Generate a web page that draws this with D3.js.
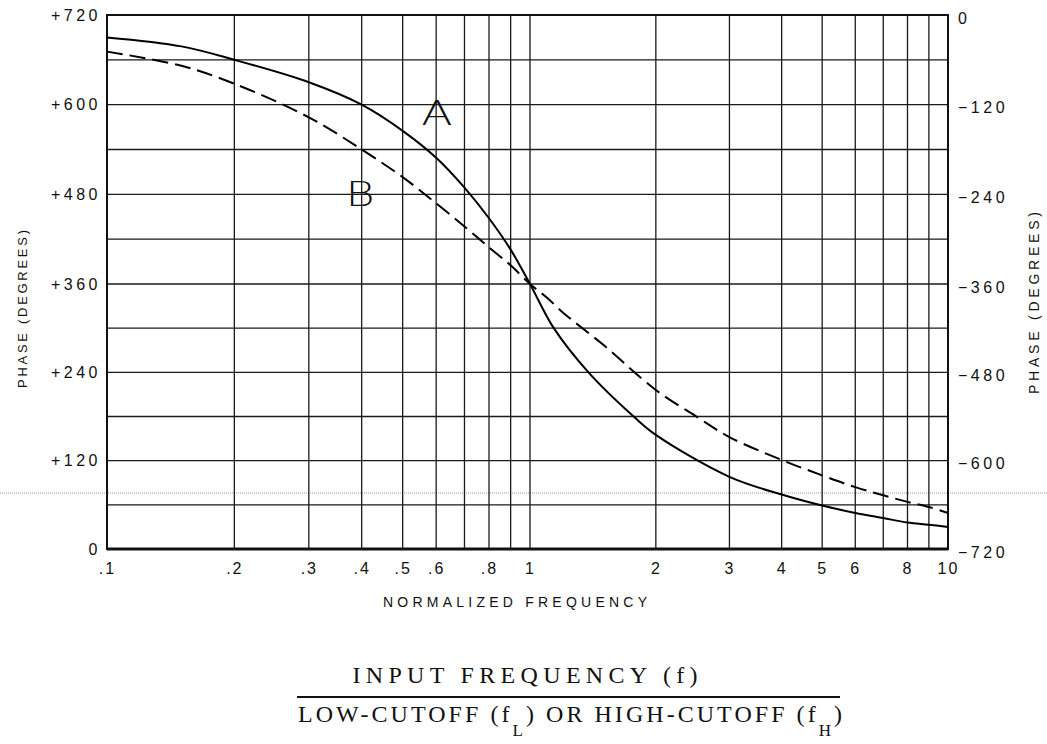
<!DOCTYPE html>
<html>
<meta charset="utf-8">
<style>
body { margin: 0; background: #fff; }
text { fill: #111; }
.tick text { font-family: "Liberation Sans", Arial, sans-serif; font-size: 16px; letter-spacing: 3.5px; fill: #111; }
.grid line { stroke: #1a1a1a; stroke-width: 1.3; }
</style>
<head>
<script src="https://cdn.jsdelivr.net/npm/d3@7"></script>
</head>
<body>
<script>
// data
var freqA  = [0.1, 0.15, 0.2, 0.3, 0.4, 0.5, 0.6, 0.7, 0.8, 0.9, 1, 1.14, 1.38, 1.77, 2, 3, 4, 5, 6, 7, 8, 9, 10];
var phaseA = [690, 678, 660, 630, 600, 565, 529, 489, 448, 406, 360, 300, 240, 180, 155, 98, 74, 59, 49, 42, 36, 33, 30];

var freqB  = [0.1, 0.15, 0.2, 0.3, 0.4, 0.5, 0.6, 0.7, 0.8, 0.9, 1, 1.1, 1.2, 1.5, 2, 2.5, 3, 4, 5, 6, 7, 8, 9, 10];
var phaseB = [671, 652, 628, 583, 540, 503, 468, 437, 409, 385, 360, 341, 321, 277, 216, 180, 152, 121, 100, 84, 73, 64, 57, 49];

var xTickVals = [0.1, 0.2, 0.3, 0.4, 0.5, 0.6, 0.8, 1, 2, 3, 4, 5, 6, 8, 10];
var xTickText = [".1", ".2", ".3", ".4", ".5", ".6", ".8", "1", "2", "3", "4", "5", "6", "8", "10"];
var xGridVals = [0.2, 0.3, 0.4, 0.5, 0.6, 0.7, 0.8, 0.9, 1, 2, 3, 4, 5, 6, 7, 8, 9];
var yLeftTicks  = [0, 120, 240, 360, 480, 600, 720];
var yRightTicks = [-720, -600, -480, -360, -240, -120, 0];
var yGridVals = [60, 120, 180, 240, 300, 360, 420, 480, 540, 600, 660];

var W = 1047, H = 744;
var plot = {left: 107, right: 948, top: 15, bottom: 549};

// the scan is not quite even, so the scales are piecewise
var x = d3.scaleLog().domain([0.1, 1, 10]).range([plot.left, 530, plot.right]);
var y = d3.scaleLinear().domain([0, 360, 720]).range([plot.bottom, 284, plot.top]);
var y2 = d3.scaleLinear().domain([-720, -360, 0]).range([plot.bottom, 284, plot.top]);

var svg = d3.select("body").append("svg")
    .attr("width", W)
    .attr("height", H);

// faint scanner line across the page
svg.append("line")
    .attr("x1", 0).attr("x2", W)
    .attr("y1", 493).attr("y2", 493)
    .attr("stroke", "#999")
    .attr("stroke-width", 1)
    .attr("stroke-dasharray", "1,1");

// grid
var grid = svg.append("g").attr("class", "grid");
grid.selectAll(".v").data(xGridVals).enter().append("line")
    .attr("x1", function(d) { return x(d); })
    .attr("x2", function(d) { return x(d); })
    .attr("y1", plot.top).attr("y2", plot.bottom);
grid.selectAll(".h").data(yGridVals).enter().append("line")
    .attr("x1", plot.left).attr("x2", plot.right)
    .attr("y1", function(d) { return y(d); })
    .attr("y2", function(d) { return y(d); });

// frame
svg.append("rect")
    .attr("x", plot.left).attr("y", plot.top)
    .attr("width", plot.right - plot.left).attr("height", plot.bottom - plot.top)
    .attr("fill", "none")
    .attr("stroke", "#111")
    .attr("stroke-width", 2);
svg.append("line")
    .attr("x1", plot.left).attr("x2", plot.right)
    .attr("y1", plot.bottom).attr("y2", plot.bottom)
    .attr("stroke", "#111").attr("stroke-width", 3);

// axes
var xAxis = svg.append("g")
    .attr("transform", "translate(0," + plot.bottom + ")")
    .call(d3.axisBottom(x).tickValues(xTickVals)
        .tickFormat(function(d, i) { return xTickText[i]; })
        .tickSize(0).tickPadding(14));
xAxis.select(".domain").remove();
xAxis.selectAll(".tick text").style("letter-spacing", "2px");

var yAxisL = svg.append("g")
    .attr("transform", "translate(" + plot.left + ",0)")
    .call(d3.axisLeft(y).tickValues(yLeftTicks)
        .tickFormat(function(d) { return d === 0 ? "0" : "+" + d; })
        .tickSize(0).tickPadding(6));
yAxisL.select(".domain").remove();

var yAxisR = svg.append("g")
    .attr("transform", "translate(" + plot.right + ",0)")
    .call(d3.axisRight(y2).tickValues(yRightTicks)
        .tickFormat(function(d) { return d === 0 ? "0" : "\u2212" + Math.abs(d); })
        .tickSize(0).tickPadding(10));
yAxisR.select(".domain").remove();
yAxisR.selectAll(".tick text").attr("dy", "0.5em");

// curves
var line = d3.line()
    .x(function(d) { return x(d[0]); })
    .y(function(d) { return y(d[1]); })
    .curve(d3.curveCatmullRom.alpha(0.5));

svg.append("path")
    .datum(d3.zip(freqA, phaseA))
    .attr("d", line)
    .attr("fill", "none")
    .attr("stroke", "#000")
    .attr("stroke-width", 2);

svg.append("path")
    .datum(d3.zip(freqB, phaseB))
    .attr("d", line)
    .attr("fill", "none")
    .attr("stroke", "#000")
    .attr("stroke-width", 2)
    .attr("stroke-dasharray", "16,7");

// curve letters
svg.append("text")
    .attr("transform", "translate(437,125) scale(1.35,1)")
    .attr("text-anchor", "middle")
    .style("font-family", "DejaVu Sans")
    .style("font-size", "34px")
    .style("font-weight", "200")
    .text("A");
svg.append("text")
    .attr("transform", "translate(360,206) scale(1.35,1)")
    .attr("text-anchor", "middle")
    .style("font-family", "DejaVu Sans")
    .style("font-size", "33px")
    .style("font-weight", "200")
    .text("B");

// axis titles
svg.append("text")
    .attr("transform", "translate(27,309) rotate(-90)")
    .attr("text-anchor", "middle")
    .attr("textLength", 158)
    .attr("lengthAdjust", "spacing")
    .style("font-family", "Liberation Sans")
    .style("font-size", "13px")
    .text("PHASE (DEGREES)");
svg.append("text")
    .attr("transform", "translate(1039,303) rotate(-90)")
    .attr("text-anchor", "middle")
    .attr("textLength", 182)
    .attr("lengthAdjust", "spacing")
    .style("font-family", "Liberation Sans")
    .style("font-size", "14px")
    .text("PHASE (DEGREES)");
svg.append("text")
    .attr("x", 515).attr("y", 607)
    .attr("text-anchor", "middle")
    .attr("textLength", 264)
    .attr("lengthAdjust", "spacing")
    .style("font-family", "Liberation Sans")
    .style("font-size", "14px")
    .text("NORMALIZED FREQUENCY");

// fraction below the chart
svg.append("text")
    .attr("x", 525).attr("y", 683)
    .attr("text-anchor", "middle")
    .attr("textLength", 345)
    .attr("lengthAdjust", "spacing")
    .style("font-family", "Liberation Serif")
    .style("font-size", "24px")
    .text("INPUT FREQUENCY (f)");
svg.append("line")
    .attr("x1", 297).attr("x2", 840)
    .attr("y1", 697).attr("y2", 697)
    .attr("stroke", "#111").attr("stroke-width", 2);
var den = svg.append("text")
    .attr("x", 298).attr("y", 722)
    .attr("textLength", 544)
    .attr("lengthAdjust", "spacing")
    .style("font-family", "Liberation Serif")
    .style("font-size", "24px");
den.append("tspan").text("LOW-CUTOFF (f");
den.append("tspan").attr("dy", 14).style("font-size", "17px").text("L");
den.append("tspan").attr("dy", -14).text(") OR HIGH-CUTOFF (f");
den.append("tspan").attr("dy", 14).style("font-size", "17px").text("H");
den.append("tspan").attr("dy", -14).text(")");
</script>
</body>
</html>
